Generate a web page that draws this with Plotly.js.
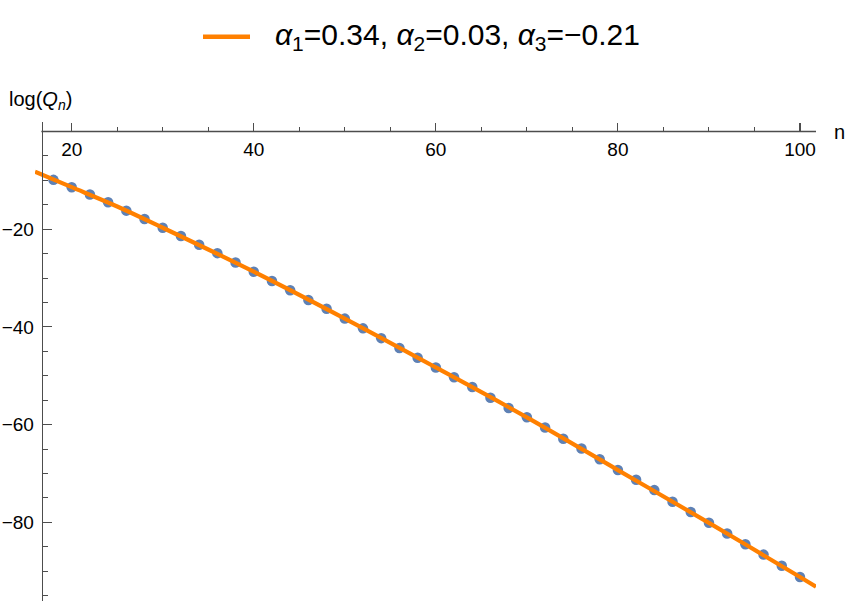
<!DOCTYPE html>
<html>
<head>
<meta charset="utf-8">
<script src="https://cdn.plot.ly/plotly-3.0.1.min.js"></script>
<style>
    body{
    margin: 0;
    background: white;
    }
    #graph{
    width: 847px;
    height: 606px;
    }
</style>
</head>
<body>
<div id="graph"></div>
<script>
// measured points log(Q_n)
let N=[18,20,22,24,26,28,30,32,34,36,38,40,42,44,46,48,50,52,54,56,58,
    60,62,64,66,68,70,72,74,76,78,80,82,84,86,88,90,92,94,96,98,100];
let logQ=[-9.9,-11.4,-12.9,-14.5,-16.2,-17.9,-19.7,-21.4,-23.2,-24.9,-26.8,
    -28.7,-30.6,-32.5,-34.5,-36.3,-38.3,-40.3,-42.3,-44.3,-46.3,
    -48.3,-50.3,-52.3,-54.5,-56.6,-58.5,-60.6,-62.9,-64.9,-67.1,
    -69.3,-71.3,-73.4,-75.8,-77.9,-80.1,-82.3,-84.5,-86.6,-88.9,-91.2];

// fitted curve
let fitN=[15.97,20,25,30,40,50,60,70,80,90,100,101.76];
let fitQ=[-8.25,-11.4,-15.35,-19.7,-28.7,-38.3,-48.3,-58.5,-69.3,-80.1,-91.2,-93.2];

let xTicks=[20,40,60,80,100];
let yTicks=[-80,-60,-40,-20];
let legendText='<i>α</i><sub>1</sub>=0.34, <i>α</i><sub>2</sub>=0.03, <i>α</i><sub>3</sub>=−0.21';

// plot area in pixels: left 35, right 816, top 122, bottom 601
let L=35, R=816, T=122, B=601;
let W=R-L, H=B-T;
let px=(v)=>(v-L)/W;
let py=(v)=>(B-v)/H;

let axisColor='#4d4d4d';
let font='"Liberation Sans", Arial, sans-serif';

let pointTrace={
    x: N,
    y: logQ,
    type: 'scatter',
    mode: 'markers',
    showlegend: false,
    marker: {color: '#5e81b5', size: 10.5, line: {width: 0}}
};

let fitTrace={
    x: fitN,
    y: fitQ,
    type: 'scatter',
    mode: 'lines',
    showlegend: false,
    line: {color: '#ff8000', width: 4.2, shape: 'spline'}
};

let myLayout={
    width: 847,
    height: 606,
    margin: {l: L, r: 847-R, t: T, b: 606-B},
    paper_bgcolor: 'white',
    plot_bgcolor: 'white',
    showlegend: false,
    font: {family: font, size: 19, color: 'black'},
    xaxis: {
        range: [15.97, 101.76],
        anchor: 'free',
        position: py(131.5),
        showgrid: false,
        zeroline: false,
        showline: false,
        tickmode: 'array',
        tickvals: xTicks,
        ticks: 'inside',
        ticklen: 9,
        tickwidth: 1.1,
        tickcolor: axisColor,
        ticklabelstandoff: 4,
        minor: {tickmode: 'linear', tick0: 0, dtick: 5, ticks: 'inside', ticklen: 5, tickwidth: 1, tickcolor: axisColor}
    },
    yaxis: {
        range: [-96.1, 1.94],
        anchor: 'free',
        position: px(41.7),
        showgrid: false,
        zeroline: false,
        showline: true,
        linecolor: axisColor,
        linewidth: 1.3,
        tickmode: 'array',
        tickvals: yTicks,
        ticks: 'inside',
        ticklen: 9,
        tickwidth: 1.1,
        tickcolor: axisColor,
        ticklabelstandoff: 4,
        minor: {tickmode: 'linear', tick0: 0, dtick: 5, ticks: 'inside', ticklen: 5, tickwidth: 1, tickcolor: axisColor}
    },
    shapes: [
        // x axis line, starting at the y axis
        {type: 'line', xref: 'x', yref: 'y', x0: 16.67, x1: 101.76, y0: 0, y1: 0,
            line: {color: axisColor, width: 1.3}},
        // legend sample
        {type: 'line', xref: 'paper', yref: 'paper', x0: px(203), x1: px(250), y0: py(36.7), y1: py(36.7),
            line: {color: '#ff8000', width: 4.5}}
    ],
    annotations: [
        {text: legendText, xref: 'paper', yref: 'paper', x: px(273), y: py(36), xanchor: 'left', yanchor: 'middle',
            showarrow: false, font: {family: font, size: 30, color: 'black'}},
        {text: 'log(<i>Q</i><sub><i>n</i></sub>)', xref: 'paper', yref: 'paper', x: px(7), y: py(101),
            xanchor: 'left', yanchor: 'middle', showarrow: false, font: {family: font, size: 20, color: 'black'}},
        {text: 'n', xref: 'paper', yref: 'paper', x: px(832), y: py(132),
            xanchor: 'left', yanchor: 'middle', showarrow: false, font: {family: font, size: 20, color: 'black'}}
    ]
};

Plotly.newPlot('graph', [pointTrace, fitTrace], myLayout, {displayModeBar: false, staticPlot: true});
</script>
</body>
</html>
